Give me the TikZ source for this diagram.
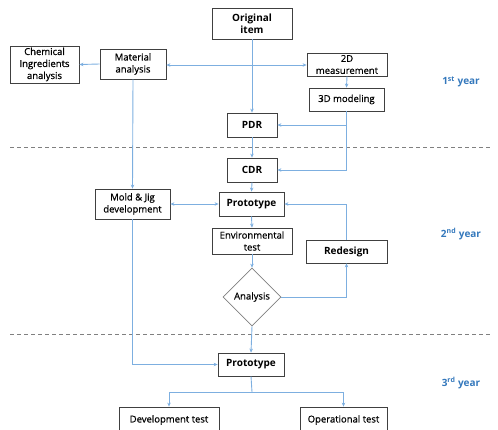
\documentclass[tikz,border=0pt]{standalone}
\usepackage{fontspec}
\setmainfont{Open Sans}
\newfontfamily\medfont{Open Sans}[FakeBold=0.6]
\usetikzlibrary{shapes.geometric,arrows.meta}
\definecolor{lineblue}{RGB}{125,175,224}
\definecolor{yearblue}{RGB}{52,120,188}
\definecolor{boxgray}{RGB}{64,64,64}
\tikzset{
  box/.style={draw=boxgray, line width=0.8pt, fill=white, align=center, inner sep=1pt, font=\fontsize{9.5}{12}\medfont},
  boldbox/.style={box, font=\fontsize{10}{12.5}\selectfont\bfseries},
  conn/.style={draw=lineblue, line width=0.9pt, -{Stealth[length=4pt,width=3.5pt]}},
  plain/.style={draw=lineblue, line width=0.9pt},
  sep/.style={draw=gray, line width=0.7pt, dash pattern=on 4pt off 3pt},
  yearlbl/.style={text=yearblue, font=\fontsize{10}{12}\selectfont\bfseries}
}
\begin{document}
\begin{tikzpicture}[x=1pt,y=-1pt]
\useasboundingbox (0,0) rectangle (498,429);
% separators
\draw[sep] (10,147) -- (490,147);
\draw[sep] (10,334) -- (490,334);
% nodes
\node[boldbox, minimum width=80pt, minimum height=31pt] (orig) at (252,23.5) {Original\\item};
\node[box, minimum width=66pt, minimum height=30pt] (mat) at (133,64) {Material\\analysis};
\node[box, minimum width=69pt, minimum height=37pt] (chem) at (44.5,64.5) {Chemical\\Ingredients\\analysis};
\node[box, minimum width=80pt, minimum height=23pt, inner sep=0pt, font=\fontsize{9.5}{12}\medfont] (m2d) at (347,64.5) {2D\\measurement};
\node[box, minimum width=75pt, minimum height=23pt] (m3d) at (346.5,99.5) {3D modeling};
\node[boldbox, minimum width=50pt, minimum height=24pt] (pdr) at (252,125) {PDR};
\node[boldbox, minimum width=50pt, minimum height=24pt] (cdr) at (252,170) {CDR};
\node[boldbox, minimum width=65pt, minimum height=24pt] (proto) at (251.5,204) {Prototype};
\node[box, minimum width=80pt, minimum height=26pt] (env) at (252,241) {Environmental\\test};
\node[boldbox, minimum width=81pt, minimum height=23pt] (redes) at (346.5,251.5) {Redesign};
\node[draw=gray, line width=0.7pt, fill=white, diamond, aspect=1, minimum width=58pt, minimum height=58pt, inner sep=0pt, font=\fontsize{9.5}{12}\medfont] (ana) at (252,297) {Analysis};
\node[box, minimum width=75pt, minimum height=30pt] (mold) at (132.5,204) {Mold \& Jig\\development};
\node[boldbox, minimum width=66pt, minimum height=23pt] (proto2) at (251,364.5) {Prototype};
\node[box, minimum width=100pt, minimum height=26pt] (devt) at (169,420) {Development test};
\node[box, minimum width=87pt, minimum height=26pt] (opt) at (343.5,420) {Operational test};
% year labels
\node[yearlbl] (y1) at (461,82) {1\textsuperscript{st} year};
\node[yearlbl] (y2) at (461,234) {2\textsuperscript{nd} year};
\node[yearlbl] (y3) at (461,383) {3\textsuperscript{rd} year};
% connectors
\coordinate (j1) at (252,65);
\coordinate (j2) at (252,392);
\draw[conn] (orig.south) -- (pdr.north);
\draw[conn] (j1) -- (mat.east |- j1);
\draw[conn] (j1) -- (m2d.west |- j1);
\draw[conn] (mat.west) -- (chem.east);
\draw[conn] (m2d.south) -- (m3d.north);
\draw[conn] (m3d.south) |- (cdr.east);
\draw[conn] (m3d.south |- pdr.east) -- (pdr.east);
\draw[conn] (pdr.south) -- (cdr.north);
\draw[conn] (cdr.south) -- (proto.north);
\draw[conn] (proto.south) -- (env.north);
\draw[conn] (env.south) -- (ana.north);
\draw[conn] (ana.east) -| (redes.south);
\draw[conn] (redes.north) |- (proto.east);
\draw[conn, {Stealth[length=4pt,width=3.5pt]}-{Stealth[length=4pt,width=3.5pt]}] (mold.east) -- (proto.west);
\draw[conn] (mat.south) -- (mold.north);
\draw[conn] (mold.south) |- (proto2.west);
\draw[conn] (ana.south) -- (proto2.north);
\draw[plain] (proto2.south) -- (j2);
\draw[conn] (j2) -| (devt.north);
\draw[conn] (j2) -| (opt.north);
\end{tikzpicture}
\end{document}
